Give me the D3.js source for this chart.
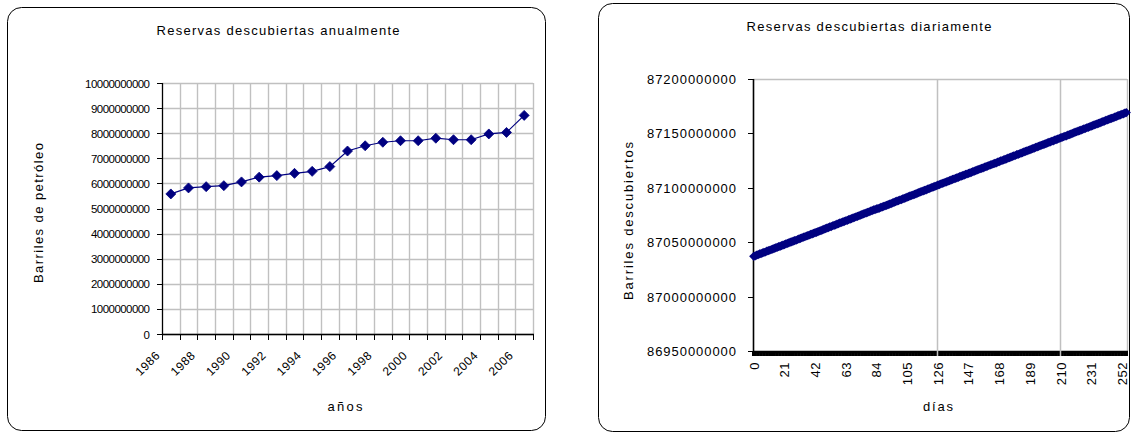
<!DOCTYPE html>
<html>
<head>
<meta charset="utf-8">
<script src="https://cdn.jsdelivr.net/npm/d3@7"></script>
<style>
  html, body { margin: 0; padding: 0; background: #fff; }
  svg { display: block; font-family: "Liberation Sans", Arial, sans-serif; }
</style>
</head>
<body>
<svg id="chart" width="1132" height="434"></svg>
<script>
// ---- Annual discovered reserves (barrels) ----
const years = ["1986","1987","1988","1989","1990","1991","1992","1993","1994","1995","1996",
               "1997","1998","1999","2000","2001","2002","2003","2004","2005","2006"];
const annualReserves = [5580000000, 5820000000, 5870000000, 5910000000, 6060000000, 6250000000,
                        6310000000, 6400000000, 6480000000, 6670000000, 7290000000, 7500000000,
                        7640000000, 7700000000, 7700000000, 7800000000, 7740000000, 7740000000,
                        7970000000, 8030000000, 8710000000];
const annualTickValues = [0,1e9,2e9,3e9,4e9,5e9,6e9,7e9,8e9,9e9,1e10];
const annualTickLabels = ["0","1000000000","2000000000","3000000000","4000000000","5000000000",
                          "6000000000","7000000000","8000000000","9000000000","10000000000"];
const annualYearLabels = ["1986","1988","1990","1992","1994","1996","1998","2000","2002","2004","2006"];

// ---- Daily discovered reserves (millions of barrels), day 0 .. 255 ----
const dailyReserves = [
  87037.0, 87037.4, 87038.1, 87038.5, 87039.2, 87039.5, 87040.1, 87040.7, 87041.0, 87041.8, 87042.2, 87042.6, 87043.3, 87043.7, 87044.4, 87044.8,
  87045.3, 87045.9, 87046.2, 87046.9, 87047.4, 87047.8, 87048.5, 87048.9, 87049.4, 87050.0, 87050.3, 87051.0, 87051.5, 87051.8, 87052.5, 87053.0,
  87053.5, 87054.1, 87054.6, 87055.0, 87055.7, 87056.1, 87056.6, 87057.2, 87057.6, 87058.2, 87058.8, 87059.1, 87059.8, 87060.3, 87060.7, 87061.4,
  87061.8, 87062.5, 87062.9, 87063.4, 87064.0, 87064.4, 87065.1, 87065.5, 87066.0, 87066.6, 87067.0, 87067.7, 87068.1, 87068.6, 87069.2, 87069.7,
  87070.1, 87070.8, 87071.2, 87071.7, 87072.3, 87072.7, 87073.4, 87073.8, 87074.3, 87074.9, 87075.3, 87076.0, 87076.4, 87077.0, 87077.4, 87078.0,
  87078.6, 87079.1, 87079.8, 87080.0, 87080.6, 87080.9, 87081.4, 87082.0, 87082.4, 87083.0, 87083.5, 87083.9, 87084.6, 87085.0, 87085.5, 87086.1,
  87086.6, 87087.3, 87087.7, 87088.2, 87088.8, 87089.2, 87089.9, 87090.3, 87090.8, 87091.4, 87091.8, 87092.5, 87092.9, 87093.4, 87094.0, 87094.5,
  87095.1, 87095.6, 87096.2, 87096.6, 87097.2, 87097.7, 87098.1, 87098.8, 87099.2, 87099.8, 87100.3, 87100.8, 87101.4, 87101.9, 87102.4, 87103.0,
  87103.5, 87104.0, 87104.4, 87105.1, 87105.5, 87106.0, 87106.6, 87107.0, 87107.7, 87108.1, 87108.6, 87109.2, 87109.6, 87110.3, 87110.7, 87111.2,
  87111.7, 87112.3, 87112.7, 87113.2, 87113.8, 87114.2, 87114.9, 87115.3, 87115.8, 87116.4, 87116.8, 87117.5, 87117.9, 87118.4, 87119.0, 87119.4,
  87120.0, 87120.5, 87121.0, 87121.4, 87122.1, 87122.5, 87123.0, 87123.6, 87124.0, 87124.7, 87125.1, 87125.6, 87126.2, 87126.6, 87127.3, 87127.7,
  87128.2, 87128.8, 87129.3, 87129.7, 87130.4, 87130.8, 87131.3, 87131.9, 87132.3, 87133.0, 87133.4, 87133.9, 87134.5, 87134.9, 87135.6, 87136.0,
  87136.5, 87137.1, 87137.6, 87138.0, 87138.7, 87139.1, 87139.6, 87140.2, 87140.6, 87141.3, 87141.7, 87142.2, 87142.8, 87143.2, 87143.9, 87144.3,
  87144.8, 87145.3, 87145.9, 87146.3, 87146.9, 87147.4, 87147.8, 87148.5, 87148.9, 87149.4, 87150.0, 87150.4, 87151.1, 87151.5, 87152.0, 87152.6,
  87153.0, 87153.6, 87154.1, 87154.5, 87155.2, 87155.6, 87156.1, 87156.7, 87157.1, 87157.8, 87158.2, 87158.7, 87159.3, 87159.7, 87160.4, 87160.8,
  87161.3, 87161.9, 87162.4, 87162.8, 87163.5, 87163.9, 87164.4, 87165.0, 87165.4, 87166.1, 87166.5, 87167.0, 87167.6, 87168.0, 87168.7, 87169.1
];
const dailyTickValues = [86950, 87000, 87050, 87100, 87150, 87200];
const dailyTickLabels = ["86950000000","87000000000","87050000000","87100000000","87150000000","87200000000"];
const dailyDayLabels = [0, 21, 42, 63, 84, 105, 126, 147, 168, 189, 210, 231, 252];
const dailyGridDays = [126, 210];

const NAVY = "#000080";
const GRID = "#c0c0c0";
const svg = d3.select("#chart");

function label(g, txt, x, y, opts = {}) {
  const t = g.append("text")
    .attr("x", x).attr("y", y)
    .attr("font-size", opts.size || 12)
    .attr("fill", "#000")
    .attr("text-anchor", opts.anchor || "middle")
    .text(txt);
  if (opts.width) t.attr("textLength", opts.width).attr("lengthAdjust", "spacing");
  if (opts.transform) t.attr("transform", opts.transform);
  if (opts.spacing) t.style("letter-spacing", opts.spacing + "px");
  return t;
}

function frame(x0, y0, x1, y1) {
  svg.append("rect")
    .attr("x", x0 + 0.5).attr("y", y0 + 0.5)
    .attr("width", x1 - x0).attr("height", y1 - y0)
    .attr("rx", 14).attr("ry", 14)
    .attr("fill", "#fff").attr("stroke", "#000").attr("stroke-width", 1);
}

// ================= Annual chart =================
(function () {
  frame(7, 7, 545, 430);
  const g = svg.append("g");
  const L = 162, R = 533, T = 83, B = 334;
  const x = d3.scaleBand().domain(years).range([L, R]).padding(0);
  const y = d3.scaleLinear().domain([0, 1e10]).range([B, T]);

  // gridlines
  g.append("g").selectAll("line.h").data(annualTickValues).join("line")
    .attr("x1", L).attr("x2", R)
    .attr("y1", d => Math.round(y(d)) + 0.5).attr("y2", d => Math.round(y(d)) + 0.5)
    .attr("stroke", GRID).attr("stroke-width", 1.4);
  const bounds = years.map(d => x(d)).concat([R]);
  g.append("g").selectAll("line.v").data(bounds.slice(1)).join("line")
    .attr("x1", d => Math.round(d) + 0.5).attr("x2", d => Math.round(d) + 0.5)
    .attr("y1", T).attr("y2", B)
    .attr("stroke", GRID).attr("stroke-width", 1.4);

  // axes
  g.append("line").attr("x1", L + 0.5).attr("x2", L + 0.5).attr("y1", T).attr("y2", B + 0.5)
    .attr("stroke", "#000").attr("stroke-width", 1.3);
  g.append("line").attr("x1", L).attr("x2", R + 1).attr("y1", B + 0.5).attr("y2", B + 0.5)
    .attr("stroke", "#000").attr("stroke-width", 1.3);
  g.append("g").selectAll("line").data(annualTickValues).join("line")
    .attr("x1", L - 5).attr("x2", L)
    .attr("y1", d => Math.round(y(d)) + 0.5).attr("y2", d => Math.round(y(d)) + 0.5)
    .attr("stroke", "#000");
  g.append("g").selectAll("line").data(bounds).join("line")
    .attr("x1", d => Math.round(d) + 0.5).attr("x2", d => Math.round(d) + 0.5)
    .attr("y1", B).attr("y2", B + 6)
    .attr("stroke", "#000");

  // tick labels
  annualTickValues.forEach((v, i) => {
    label(g, annualTickLabels[i], 150, y(v) + 4.5, { anchor: "end", size: 11.5, width: annualTickLabels[i].length * 5.9 });
  });
  annualYearLabels.forEach(yr => {
    const cx = x(yr) + x.bandwidth() / 2;
    label(g, yr, 0, 0, { anchor: "end", size: 12, spacing: 0.6,
      transform: `translate(${cx - 10},${356}) rotate(-45)` });
  });

  // series
  const line = d3.line().x((d, i) => x(years[i]) + x.bandwidth() / 2).y(d => y(d));
  g.append("path").datum(annualReserves).attr("d", line)
    .attr("fill", "none").attr("stroke", NAVY).attr("stroke-width", 1.2);
  g.append("g").selectAll("path").data(annualReserves).join("path")
    .attr("transform", (d, i) => `translate(${x(years[i]) + x.bandwidth() / 2},${y(d)})`)
    .attr("d", "M0,-5L5,0L0,5L-5,0Z")
    .attr("fill", NAVY).attr("stroke", NAVY).attr("stroke-width", 0.8);

  // titles
  label(g, "Reservas descubiertas anualmente", 278, 35, { size: 13, width: 243 });
  label(g, "Barriles de petróleo", 0, 0, { size: 13, width: 140, transform: "translate(43,213) rotate(-90)" });
  label(g, "años", 345, 411, { size: 13, width: 35 });
})();

// ================= Daily chart =================
(function () {
  frame(598, 3, 1129, 431);
  const g = svg.append("g");
  const L = 753, R = 1127, T = 79, B = 351;
  const days = dailyReserves.map((d, i) => i);
  const x = d3.scaleBand().domain(days).range([L, R]).padding(0);
  const y = d3.scaleLinear().domain([86950, 87200]).range([B, T]);

  // plot border (top, right)
  g.append("line").attr("x1", L).attr("x2", R).attr("y1", T + 0.5).attr("y2", T + 0.5)
    .attr("stroke", GRID).attr("stroke-width", 1.4);
  g.append("line").attr("x1", R + 0.5).attr("x2", R + 0.5).attr("y1", T).attr("y2", B)
    .attr("stroke", GRID).attr("stroke-width", 1.4);

  // axes
  g.append("line").attr("x1", L + 0.5).attr("x2", L + 0.5).attr("y1", T).attr("y2", B + 1)
    .attr("stroke", "#000").attr("stroke-width", 1.6);
  g.append("g").selectAll("line").data(dailyTickValues).join("line")
    .attr("x1", L - 5).attr("x2", L)
    .attr("y1", d => Math.round(y(d)) + 0.5).attr("y2", d => Math.round(y(d)) + 0.5)
    .attr("stroke", "#000");
  // dense category ticks along the x axis
  g.append("g").selectAll("line").data(days.concat([days.length])).join("line")
    .attr("x1", d => (d < days.length ? x(d) : R)).attr("x2", d => (d < days.length ? x(d) : R))
    .attr("y1", B).attr("y2", B + 5)
    .attr("stroke", "#000").attr("stroke-width", 2);
  g.append("line").attr("x1", L).attr("x2", R + 1).attr("y1", B + 1).attr("y2", B + 1)
    .attr("stroke", "#000").attr("stroke-width", 2.5);

  // vertical gridlines
  g.append("g").selectAll("line").data(dailyGridDays).join("line")
    .attr("x1", d => Math.round(x(d)) + 0.5).attr("x2", d => Math.round(x(d)) + 0.5)
    .attr("y1", T).attr("y2", B + 5)
    .attr("stroke", GRID).attr("stroke-width", 1.5);

  // tick labels
  dailyTickValues.forEach((v, i) => {
    label(g, dailyTickLabels[i], 736, y(v) + 5, { anchor: "end", size: 13, width: 89 });
  });
  dailyDayLabels.forEach(d => {
    const cx = x(d) + x.bandwidth() / 2;
    label(g, String(d), 0, 0, { anchor: "end", size: 13, spacing: 0.5,
      transform: `translate(${cx + 5},${362}) rotate(-90)` });
  });

  // series
  const line = d3.line().x((d, i) => x(i) + x.bandwidth() / 2).y(d => y(d));
  g.append("path").datum(dailyReserves).attr("d", line)
    .attr("fill", "none").attr("stroke", NAVY).attr("stroke-width", 2);
  g.append("g").selectAll("path").data(dailyReserves).join("path")
    .attr("transform", (d, i) => `translate(${x(i) + x.bandwidth() / 2},${y(d)})`)
    .attr("d", "M0,-4.6L4.6,0L0,4.6L-4.6,0Z")
    .attr("fill", NAVY).attr("stroke", "none");

  // titles
  label(g, "Reservas descubiertas diariamente", 869, 31, { size: 13, width: 245 });
  label(g, "Barriles descubiertos", 0, 0, { size: 13, width: 158, transform: "translate(633,221) rotate(-90)" });
  label(g, "días", 938, 411, { size: 13, width: 30 });
})();
</script>
</body>
</html>
